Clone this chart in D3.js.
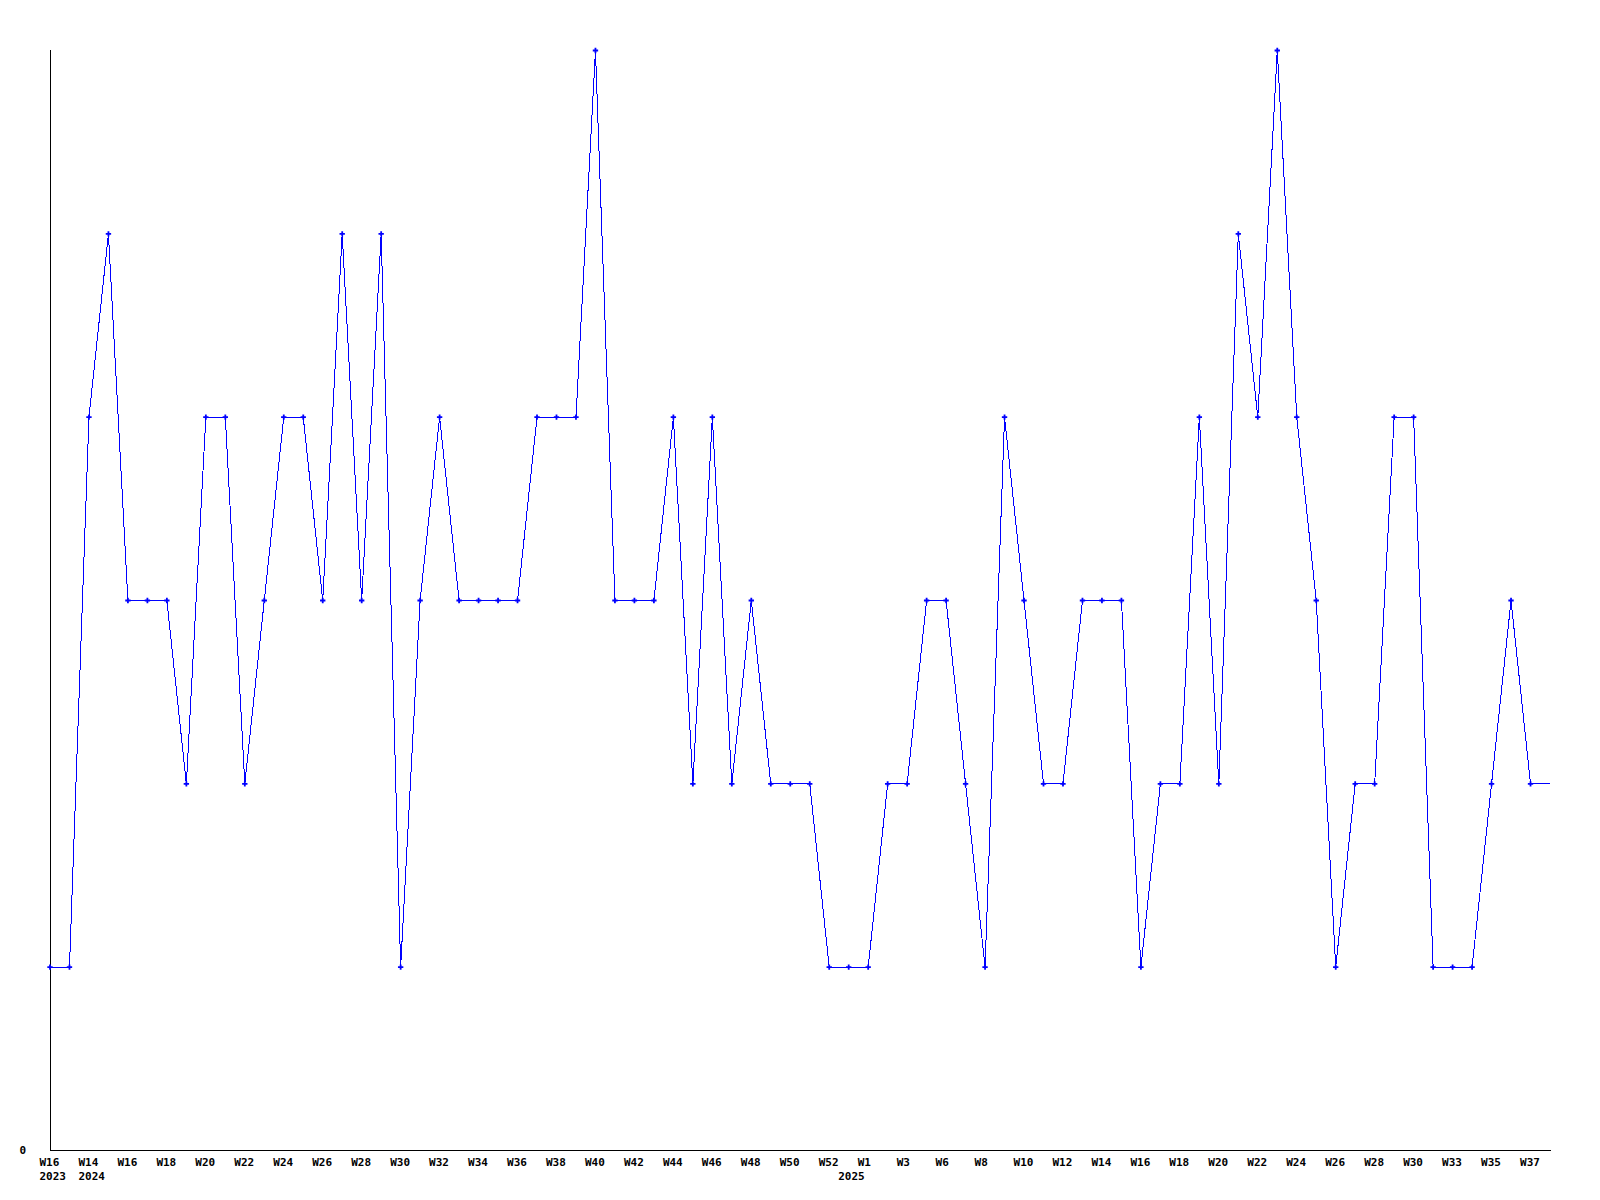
<!DOCTYPE html>
<html>
<head>
<meta charset="utf-8">
<script src="https://cdn.jsdelivr.net/npm/d3@7"></script>
<style>
  html, body { margin: 0; padding: 0; background: #ffffff; }
  svg { display: block; }
  text { font-family: "DejaVu Sans Mono", "Liberation Mono", monospace; font-weight: bold; font-size: 11px; fill: #000; }
</style>
</head>
<body>
<svg id="chart" width="1600" height="1200"></svg>
<script>
// ---- data ----
const categories = [
  "2023 W16",
  "2024 W13","2024 W14","2024 W15","2024 W16","2024 W17","2024 W18","2024 W19","2024 W20",
  "2024 W21","2024 W22","2024 W23","2024 W24","2024 W25","2024 W26","2024 W27","2024 W28",
  "2024 W29","2024 W30","2024 W31","2024 W32","2024 W33","2024 W34","2024 W35","2024 W36",
  "2024 W37","2024 W38","2024 W39","2024 W40","2024 W41","2024 W42","2024 W43","2024 W44",
  "2024 W45","2024 W46","2024 W47","2024 W48","2024 W49","2024 W50","2024 W51","2024 W52",
  "2025 W0","2025 W1","2025 W2","2025 W3","2025 W5","2025 W6","2025 W7","2025 W8",
  "2025 W9","2025 W10","2025 W11","2025 W12","2025 W13","2025 W14","2025 W15","2025 W16",
  "2025 W17","2025 W18","2025 W19","2025 W20","2025 W21","2025 W22","2025 W23","2025 W24",
  "2025 W25","2025 W26","2025 W27","2025 W28","2025 W29","2025 W30","2025 W32","2025 W33",
  "2025 W34","2025 W35","2025 W36","2025 W37","2025 W38"
];
const values = [
  1,
  1,4,5,3,3,3,2,4,
  4,2,3,4,4,3,5,3,
  5,1,3,4,3,3,3,3,
  4,4,4,6,3,3,3,4,
  2,4,2,3,2,2,2,1,
  1,1,2,2,3,3,2,1,
  4,3,2,2,3,3,3,1,
  2,2,4,2,5,4,6,4,
  3,1,2,2,4,4,1,1,
  1,2,3,2,2
];
// week tick labels (every second category)
const tickLabels = [
  "W16","W14","W16","W18","W20","W22","W24","W26","W28","W30","W32","W34","W36","W38",
  "W40","W42","W44","W46","W48","W50","W52","W1","W3","W6","W8","W10","W12","W14",
  "W16","W18","W20","W22","W24","W26","W28","W30","W33","W35","W37"
];
const yearLabels = ["2023","2024","2025"];
const yearLabelAt = ["2023 W16","2024 W14","2025 W0"];
const yTicks = [0];

// ---- layout ----
const mLeft = 50, mRight = 1550, mTop = 50, mBottom = 1150;
const svg = d3.select("#chart");

const x = d3.scalePoint().domain(categories).range([mLeft, mRight]);
const y = d3.scaleLinear().domain([0, 6]).range([mBottom, mTop]);

// axes lines
svg.append("line").attr("x1", mLeft + 0.5).attr("x2", mLeft + 0.5)
  .attr("y1", mTop).attr("y2", mBottom + 0.5)
  .attr("stroke", "#000").attr("stroke-width", 1).attr("shape-rendering", "crispEdges");
svg.append("line").attr("x1", mLeft).attr("x2", mRight + 1)
  .attr("y1", mBottom + 0.5).attr("y2", mBottom + 0.5)
  .attr("stroke", "#000").attr("stroke-width", 1).attr("shape-rendering", "crispEdges");

// y tick labels
svg.selectAll("text.ytick").data(yTicks).enter().append("text")
  .attr("class", "ytick")
  .attr("x", 26).attr("y", d => y(d) + 4)
  .attr("text-anchor", "end")
  .text(d => d);

// x tick labels
const labeledCats = categories.filter((c, i) => i % 2 === 0);
svg.selectAll("text.xtick").data(labeledCats).enter().append("text")
  .attr("class", "xtick")
  .attr("x", d => x(d) - 10.5)
  .attr("y", 1166)
  .text((d, i) => tickLabels[i]);

// year labels
svg.selectAll("text.year").data(yearLabels).enter().append("text")
  .attr("class", "year")
  .attr("x", (d, i) => x(yearLabelAt[i]) - 10.5)
  .attr("y", 1180)
  .text(d => d);

// line
const pts = categories.map((c, i) => ({ c, v: values[i] }));
const line = d3.line().x(d => x(d.c)).y(d => y(d.v) + 0.5);
svg.append("path").datum(pts)
  .attr("d", line)
  .attr("fill", "none")
  .attr("stroke", "#0000ff")
  .attr("stroke-width", 1)
  .attr("shape-rendering", "crispEdges");

// markers (all but the last, which runs to the plot edge)
const sym = d3.symbol().type(d3.symbolCross).size(16);
svg.selectAll("path.mk").data(pts.slice(0, -1)).enter().append("path")
  .attr("class", "mk")
  .attr("transform", d => `translate(${x(d.c)},${y(d.v) + 0.5})`)
  .attr("d", sym)
  .attr("fill", "#0000ff");
</script>
</body>
</html>
